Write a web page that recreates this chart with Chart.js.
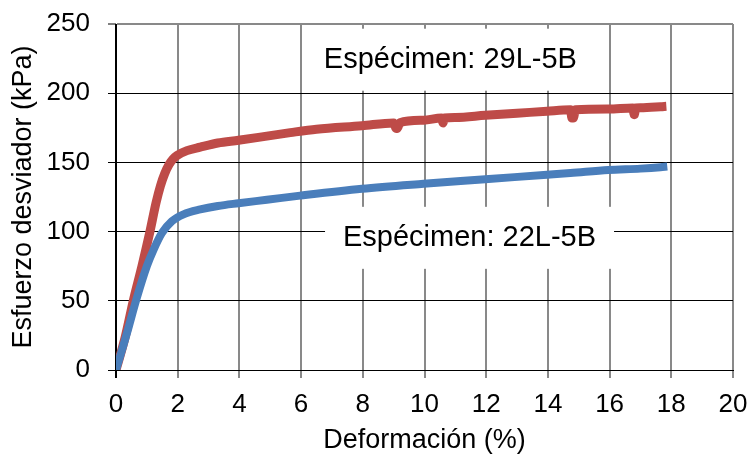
<!DOCTYPE html>
<html>
<head>
<meta charset="utf-8">
<script src="https://cdn.jsdelivr.net/npm/chart.js@4/dist/chart.umd.min.js"></script>
<style>
  html, body { margin: 0; padding: 0; background: #fff; }
  #wrap { width: 749px; height: 455px; }
</style>
</head>
<body>
<div id="wrap"><canvas id="c" width="749" height="455"></canvas></div>
<script>
// Deformación (%) vs esfuerzo desviador (kPa), two specimens
const strain29 = [0, 0.3, 0.57, 0.84, 1.09, 1.3, 1.44, 1.58, 1.72, 1.85, 1.98, 2.3, 2.73, 3.3, 3.97, 4.89, 5.65, 6.5, 7.97,
                  9.0, 9.08, 9.12, 9.2, 9.97, 10.55, 10.6, 10.65, 11.0, 11.97, 13.0, 13.97, 14.73, 14.78, 14.82, 14.9,
                  15.96, 16.75, 16.8, 16.85, 17.0, 17.65, 17.84];
const stress29 = [0, 24, 51, 75, 99, 121, 133, 142, 148.5, 152.5, 155, 158.5, 161, 164, 166, 169, 171.5, 174, 176.5,
                  178.5, 174.5, 174.5, 178.7, 180.5, 182, 178.5, 182.1, 182.5, 184, 185.5, 187, 188, 182, 182, 188,
                  188.5, 189.3, 184.5, 189.4, 189.5, 190.2, 190.5];

const strain22 = [0, 0.36, 0.66, 1.0, 1.22, 1.49, 1.81, 2.19, 2.73, 3.3, 3.97, 4.89, 5.97, 7.97, 9.97, 11.97,
                  13.97, 14.73, 15.96, 17.0, 17.65, 17.87];
const stress22 = [0, 27, 51, 75, 87, 99, 107.5, 112.5, 116, 118.5, 120.5, 123, 126, 131, 134.6, 137.8,
                  141.1, 142.3, 144.5, 145.5, 146.5, 147];

const xTicks = [0, 2, 4, 6, 8, 10, 12, 14, 16, 18, 20];
const yTicks = [0, 50, 100, 150, 200, 250];

// Specimen labels: text, anchor (data units) and baseline
const labelTexts = ['Espécimen: 29L-5B', 'Espécimen: 22L-5B'];
const labelX = [10.84, 11.46];
const labelBoxY = [224.2, 95.5];
const labelBaseY = [217.9, 89.9];

const FONT = '"Liberation Sans", Arial, sans-serif';
const GRAY = '#898989';

const toPoints = (xs, ys) => xs.map((x, i) => ({ x, y: ys[i] }));

// Plot area is set by the layout padding alone, not by tick label overflow
const noLabelPadding = s => {
  s.paddingTop = 0; s.paddingBottom = 0; s.paddingLeft = 0; s.paddingRight = 0;
};

const specimenLabels = {
  id: 'specimenLabels',
  beforeDatasetsDraw(chart) {
    const { ctx, scales: { x, y } } = chart;
    ctx.save();
    ctx.font = '29px ' + FONT;
    ctx.textAlign = 'center';
    ctx.textBaseline = 'alphabetic';
    labelTexts.forEach((t, i) => {
      const cx = x.getPixelForValue(labelX[i]);
      const cy = y.getPixelForValue(labelBoxY[i]);
      ctx.fillStyle = '#fff';
      ctx.fillRect(cx - 144.5, cy - 31, 289, 62);
      ctx.fillStyle = '#000';
      ctx.fillText(t, cx, y.getPixelForValue(labelBaseY[i]));
    });
    ctx.restore();
  }
};

new Chart(document.getElementById('c'), {
  type: 'scatter',
  data: {
    datasets: [
      {
        label: '22L-5B',
        data: toPoints(strain22, stress22),
        showLine: true,
        borderColor: '#4A7EBB',
        backgroundColor: '#4A7EBB',
        borderWidth: 8,
        pointRadius: 0,
        cubicInterpolationMode: 'monotone'
      },
      {
        label: '29L-5B',
        data: toPoints(strain29, stress29),
        showLine: true,
        borderColor: '#BE4B48',
        backgroundColor: '#BE4B48',
        borderWidth: 9,
        pointRadius: 0,
        cubicInterpolationMode: 'monotone'
      }
    ]
  },
  options: {
    responsive: false,
    animation: false,
    events: [],
    layout: { padding: { top: 24, right: 16, left: 0, bottom: 0 } },
    plugins: { legend: { display: false }, tooltip: { enabled: false } },
    scales: {
      x: {
        type: 'linear',
        min: 0, max: 20,
        afterFit(s) { s.height = 85; noLabelPadding(s); },
        afterBuildTicks(s) { s.ticks = xTicks.map(v => ({ value: v })); },
        grid: {
          color: c => (c.tick && c.tick.value === 0 ? '#000' : GRAY),
          lineWidth: 2,
          tickLength: 8,
          tickColor: c => (c.tick && c.tick.value === 0 ? '#000' : GRAY)
        },
        border: { color: '#000', width: 1 },
        ticks: {
          color: '#000',
          font: { family: FONT, size: 26, lineHeight: 1 },
          padding: 14,
          maxRotation: 0
        },
        title: {
          display: true,
          text: 'Deformación (%)',
          color: '#000',
          font: { family: FONT, size: 27, lineHeight: 1 },
          padding: { top: 0, bottom: 1 }
        }
      },
      y: {
        type: 'linear',
        min: 0, max: 250,
        afterFit(s) { s.width = 116; noLabelPadding(s); },
        afterBuildTicks(s) { s.ticks = yTicks.map(v => ({ value: v })); },
        grid: {
          color: c => (c.tick && c.tick.value === 250 ? GRAY : '#000'),
          lineWidth: c => (c.tick && c.tick.value === 250 ? 2 : 1),
          tickLength: 8,
          tickColor: '#000',
          tickWidth: 1
        },
        border: { color: '#000', width: 1 },
        ticks: {
          color: '#000',
          font: { family: FONT, size: 26, lineHeight: 1 },
          padding: 18
        },
        title: {
          display: true,
          text: 'Esfuerzo desviador (kPa)',
          color: '#000',
          font: { family: FONT, size: 27, lineHeight: 1 },
          padding: { top: 10, bottom: 0 }
        }
      }
    }
  },
  plugins: [specimenLabels]
});
</script>
</body>
</html>
